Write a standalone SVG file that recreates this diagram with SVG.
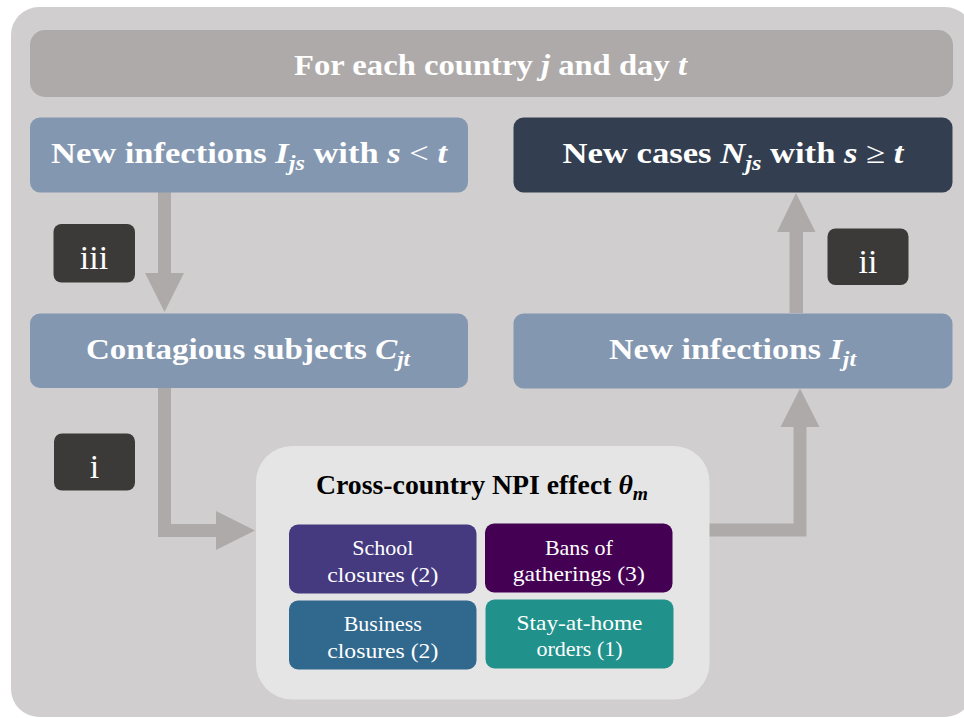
<svg xmlns="http://www.w3.org/2000/svg" width="964" height="718" viewBox="0 0 964 718">
<style>
.t{font-family:"Liberation Serif","Times New Roman",serif;fill:#ffffff;}
.b{font-weight:bold;}
.m{font-style:italic;font-weight:bold;}
.n{font-weight:normal;}
.lbl{fill:#3b3a38;}
.lt{font-family:"Liberation Serif","Times New Roman",serif;fill:#ffffff;font-size:34px;text-anchor:middle;}
.sub{font-family:"Liberation Serif","Times New Roman",serif;fill:#ffffff;font-size:22px;text-anchor:middle;}
.arrow{fill:#aeaaa9;}
</style>
<rect x="11" y="7" width="962" height="710" rx="28" fill="#d0cecf"/>
<g id="header">
<rect x="30" y="30" width="923" height="67" rx="15" fill="#aeaaa9"/>
<text class="t b" x="490.5" y="75" font-size="30" text-anchor="middle" textLength="393" lengthAdjust="spacingAndGlyphs">For each country <tspan class="m">j</tspan> and day <tspan class="m">t</tspan></text>
</g>
<g id="connectors">
<path class="arrow" d="M158,192 H171 V273 H184 L164.5,312 L145,273 H158 Z"/>
<path class="arrow" d="M789.5,313 V232 H777 L796,193 L815.5,232 H803 V313 Z"/>
<path class="arrow" d="M158,387 H171 V524 H216 V511 L255,530.5 L216,550 V537 H158 Z"/>
<path class="arrow" d="M700,523.5 H793.5 V427 H780.5 L800,388.5 L819.5,427 H806.5 V536.5 H700 Z"/>
</g>
<g id="node-new-infections-past">
<rect x="30" y="117.5" width="438" height="75" rx="10" fill="#8497b0"/>
<text class="t b" x="249" y="163" font-size="30" text-anchor="middle" textLength="396" lengthAdjust="spacingAndGlyphs">New infections <tspan class="m">I</tspan><tspan class="m" font-size="21" dy="7">js</tspan><tspan dy="-7"> with </tspan><tspan class="m">s</tspan><tspan class="n"> &lt; </tspan><tspan class="m">t</tspan></text>
</g>
<g id="node-new-cases">
<rect x="513.5" y="117.5" width="439" height="75" rx="10" fill="#333f50"/>
<text class="t b" x="733" y="163" font-size="30" text-anchor="middle" textLength="341" lengthAdjust="spacingAndGlyphs">New cases <tspan class="m">N</tspan><tspan class="m" font-size="21" dy="7">js</tspan><tspan dy="-7"> with </tspan><tspan class="m">s</tspan><tspan class="n"> ≥ </tspan><tspan class="m">t</tspan></text>
</g>
<g id="node-contagious">
<rect x="30" y="313.5" width="438" height="74.5" rx="10" fill="#8497b0"/>
<text class="t b" x="248" y="358.5" font-size="30" text-anchor="middle" textLength="324" lengthAdjust="spacingAndGlyphs">Contagious subjects <tspan class="m">C</tspan><tspan class="m" font-size="21" dy="7">jt</tspan></text>
</g>
<g id="node-new-infections">
<rect x="513.5" y="313.5" width="439" height="75" rx="10" fill="#8497b0"/>
<text class="t b" x="732.5" y="358.5" font-size="30" text-anchor="middle" textLength="247" lengthAdjust="spacingAndGlyphs">New infections <tspan class="m">I</tspan><tspan class="m" font-size="21" dy="7">jt</tspan></text>
</g>
<g id="label-iii">
<rect class="lbl" x="53.5" y="224" width="81.5" height="58.5" rx="8"/>
<text class="lt" x="94" y="269">iii</text>
</g>
<g id="label-ii">
<rect class="lbl" x="827.5" y="228.5" width="81" height="56.5" rx="8"/>
<text class="lt" x="868" y="272.5">ii</text>
</g>
<g id="label-i">
<rect class="lbl" x="54" y="433.5" width="81" height="57" rx="8"/>
<text class="lt" x="94.5" y="477.5">i</text>
</g>
<g id="npi-effect">
<rect x="256" y="446" width="453.5" height="253.5" rx="36" fill="#e6e5e5"/>
<text class="t b" x="482" y="493.5" font-size="27" fill="#000000" style="fill:#000000" text-anchor="middle" textLength="332" lengthAdjust="spacingAndGlyphs">Cross-country NPI effect <tspan class="m">θ</tspan><tspan class="m" font-size="19" dy="6">m</tspan></text>
</g>
<g id="npi-school">
<rect x="289" y="524.5" width="187.5" height="69" rx="9" fill="#45397f"/>
<text class="sub" x="382.8" y="555">School</text>
<text class="sub" x="382.8" y="581.5" textLength="111" lengthAdjust="spacingAndGlyphs">closures (2)</text>
</g>
<g id="npi-gatherings">
<rect x="485" y="523.5" width="187.5" height="69" rx="9" fill="#440154"/>
<text class="sub" x="578.8" y="554.5">Bans of</text>
<text class="sub" x="578.8" y="581" textLength="132" lengthAdjust="spacingAndGlyphs">gatherings (3)</text>
</g>
<g id="npi-business">
<rect x="289" y="600.5" width="187.5" height="69" rx="9" fill="#31688e"/>
<text class="sub" x="382.8" y="631">Business</text>
<text class="sub" x="382.8" y="657.5" textLength="111" lengthAdjust="spacingAndGlyphs">closures (2)</text>
</g>
<g id="npi-stay">
<rect x="485.5" y="599.5" width="188" height="69" rx="9" fill="#21918c"/>
<text class="sub" x="579.5" y="630" textLength="126" lengthAdjust="spacingAndGlyphs">Stay-at-home</text>
<text class="sub" x="579.5" y="656">orders (1)</text>
</g>
</svg>
